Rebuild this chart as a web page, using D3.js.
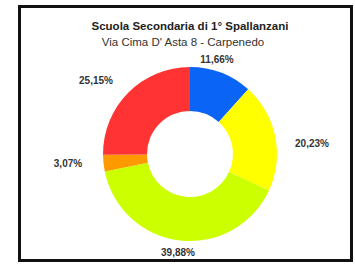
<!DOCTYPE html>
<html><head><meta charset="utf-8">
<script src="https://cdn.jsdelivr.net/npm/d3@7"></script>
<style>body{margin:0;background:#fff}svg{display:block}</style>
</head><body>
<svg id="c" width="355" height="265"></svg>
<script>
const values = [11.66, 20.23, 39.88, 3.07, 25.15];
const labels = ["11,66%", "20,23%", "39,88%", "3,07%", "25,15%"];
const colors = ["#0a64f5", "#ffff00", "#ccff00", "#ff9900", "#ff3333"];
const title = "Scuola Secondaria di 1° Spallanzani";
const subtitle = "Via Cima D' Asta 8 - Carpenedo";

const svg = d3.select("#c");
svg.append("rect").attr("x",19.5).attr("y",6.5).attr("width",332).attr("height",254)
  .attr("fill","#fff").attr("stroke","#111").attr("stroke-width",3);

svg.append("text").attr("x",190).attr("y",30).attr("text-anchor","middle")
  .attr("font-family","Liberation Sans, sans-serif").attr("font-weight","bold")
  .attr("font-size",11.5).attr("fill","#222").text(title);
svg.append("text").attr("x",183).attr("y",46).attr("text-anchor","middle")
  .attr("font-family","Liberation Sans, sans-serif")
  .attr("font-size",11.5).attr("fill","#333").text(subtitle);

const cx = 190, cy = 154, rO = 87, rI = 43;
const pie = d3.pie().sort(null).value(d => d)(values);
const arc = d3.arc().innerRadius(rI).outerRadius(rO);
const g = svg.append("g").attr("transform",`translate(${cx},${cy})`);
g.selectAll("path").data(pie).join("path").attr("d",arc).attr("fill",(d,i)=>colors[i]);

const labelPos = [[217,63],[312,147],[178,256],[68,167],[96,84]];
svg.selectAll("text.lbl").data(labels).join("text").attr("class","lbl")
  .attr("x",(d,i)=>labelPos[i][0]).attr("y",(d,i)=>labelPos[i][1])
  .attr("text-anchor","middle")
  .attr("font-family","Liberation Sans, sans-serif").attr("font-weight","bold")
  .attr("font-size",10).attr("fill","#333").text(d=>d);
</script>
</body></html>
